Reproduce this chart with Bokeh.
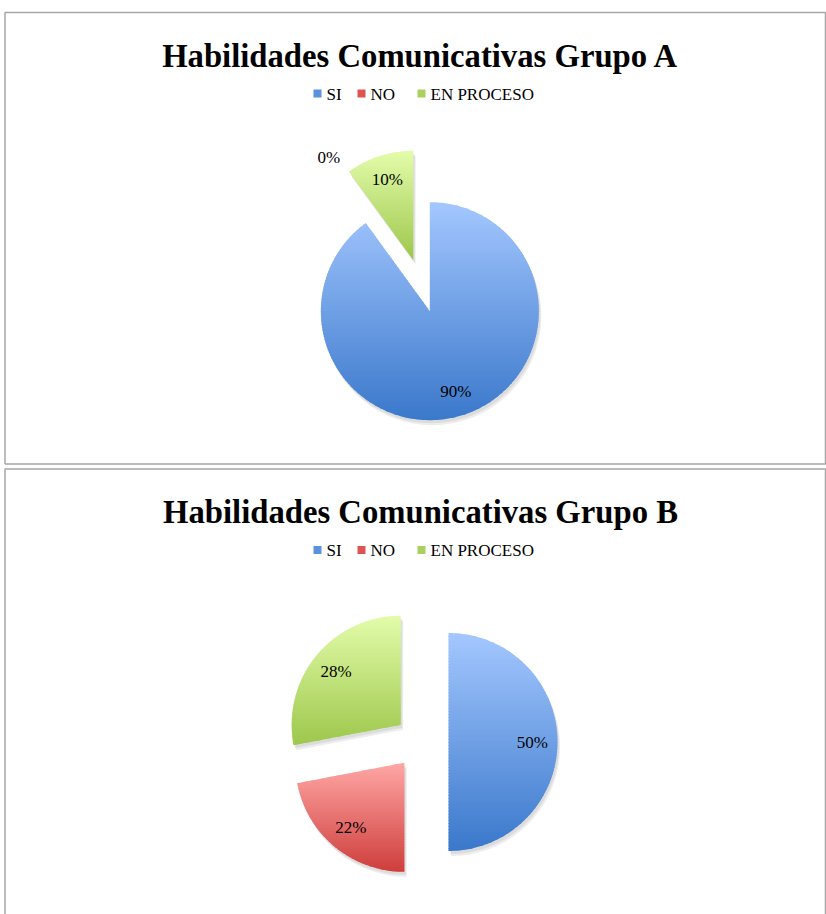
import numpy as np
from bokeh.plotting import figure
from bokeh.models import Range1d
from bokeh.layouts import column
from bokeh.embed import file_html
from bokeh.resources import INLINE
from bokeh.core.properties import value

# ---------------- data ----------------
categories = ["SI", "NO", "EN PROCESO"]
grupo_a = [90, 0, 10]
grupo_b = [50, 22, 28]
titles = ["Habilidades Comunicativas Grupo A", "Habilidades Comunicativas Grupo B"]

# ---------------- style ----------------
top_colors = ["#A4C7FF", "#FFA7A5", "#E3FCAA"]
bottom_colors = ["#3A78CB", "#CE3E3C", "#9DC74C"]
legend_colors = ["#5B92DE", "#DE5452", "#AAD160"]
FONT = "Liberation Serif"
W = 826
R = 109          # pie radius (px)
EXPLODE = 27     # slice explosion (px)
CX = 421         # pie centre x (px)


def hex2rgb(h):
    return np.array([int(h[i:i + 2], 16) for i in (1, 3, 5)], float)


def mix(c1, c2, t):
    c = hex2rgb(c1) * (1 - t) + hex2rgb(c2) * t
    return "#%02x%02x%02x" % tuple(int(round(v)) for v in c)


def clip_band(pts, y0, y1):
    def clip(poly, inside, yc):
        out = []
        n = len(poly)
        for i in range(n):
            cur, prev = poly[i], poly[i - 1]
            if inside(cur):
                if not inside(prev):
                    t = (yc - prev[1]) / (cur[1] - prev[1])
                    out.append((prev[0] + t * (cur[0] - prev[0]), yc))
                out.append(cur)
            elif inside(prev):
                t = (yc - prev[1]) / (cur[1] - prev[1])
                out.append((prev[0] + t * (cur[0] - prev[0]), yc))
        return out
    poly = clip(pts, lambda p: p[1] >= y0, y0)
    if len(poly) < 3:
        return []
    poly = clip(poly, lambda p: p[1] <= y1, y1)
    return poly if len(poly) >= 3 else []


def slice_poly(cx, cy, a0, a1, r):
    n = max(int(abs(a1 - a0) / 1.5) + 2, 3)
    th = np.radians(np.linspace(a0, a1, n))
    xs = cx + r * np.sin(th)
    ys = cy - r * np.cos(th)
    return [(cx, cy)] + list(zip(xs, ys))


def make_chart(title, values, height, box_top, box_bottom, draw_bottom):
    p = figure(width=W, height=height, x_range=Range1d(0, W),
               y_range=Range1d(height, 0), output_backend="svg",
               toolbar_location=None, tools="", min_border=0,
               x_axis_location=None, y_axis_location=None)
    p.grid.visible = False
    p.outline_line_color = None
    p.background_fill_color = "white"
    p.border_fill_color = "white"

    # chart box
    bx = [4.5, 4.5, 825, 825]
    by = [box_bottom, box_top, box_top, box_bottom]
    if draw_bottom:
        bx.append(4.5)
        by.append(box_bottom)
    p.line(bx, by, line_color="#A6A6A6", line_width=1.5)

    cy = box_top + 273
    total = float(sum(values))
    start = 0.0
    shadow_xs, shadow_ys = [], []
    band_xs, band_ys, band_cols = [], [], []
    lab_x, lab_y, lab_t = [], [], []
    for i, v in enumerate(values):
        span = 360.0 * v / total
        mid = start + span / 2
        ox = EXPLODE * np.sin(np.radians(mid))
        oy = -EXPLODE * np.cos(np.radians(mid))
        scx, scy = CX + ox, cy + oy
        if v > 0:
            pts = slice_poly(scx, scy, start, start + span, R)
            for dx, dy in [(1.5, 3.0), (2.5, 5.0)]:
                shadow_xs.append([q[0] + dx for q in pts])
                shadow_ys.append([q[1] + dy for q in pts])
            ys = [q[1] for q in pts]
            y_min, y_max = min(ys), max(ys)
            nb = 70
            edges = np.linspace(y_min, y_max, nb + 1)
            for b in range(nb):
                y0 = edges[b]
                y1 = min(edges[b + 1] + 1.0, y_max)
                poly = clip_band(pts, y0, y1)
                if poly:
                    band_xs.append([q[0] for q in poly])
                    band_ys.append([q[1] for q in poly])
                    band_cols.append(mix(top_colors[i], bottom_colors[i], (b + 0.5) / nb))
            lr = 0.77 * R
        else:
            lr = 1.2 * R
        lab_x.append(scx + lr * np.sin(np.radians(mid)))
        lab_y.append(scy - lr * np.cos(np.radians(mid)))
        lab_t.append("%d%%" % v)
        start += span

    p.patches(shadow_xs, shadow_ys, fill_color="#000000", fill_alpha=0.07, line_color=None)
    p.patches(xs=band_xs, ys=band_ys, fill_color=band_cols, line_color=None)

    p.text(x=lab_x, y=lab_y, text=lab_t, text_font=value(FONT), text_font_size="17px",
           text_align="center", text_baseline="middle", text_color="#000000")

    # title
    p.text(x=[CX - 1], y=[box_top + 43], text=[title], text_font=value(FONT),
           text_font_size="32.7px", text_font_style="bold", text_align="center",
           text_baseline="alphabetic", text_color="#000000")

    # legend
    ly = box_top + 81
    sq_x = [317, 361, 421]
    p.rect(x=sq_x, y=[ly] * 3, width=8, height=8, fill_color=legend_colors, line_color=None)
    p.text(x=[s + 9 for s in sq_x], y=[ly + 0.5] * 3, text=categories, text_font=value(FONT),
           text_font_size="17px", text_align="left", text_baseline="middle",
           text_color="#000000")
    return p


p1 = make_chart(titles[0], grupo_a, 466, 12, 463.5, True)
p2 = make_chart(titles[1], grupo_b, 448, 2.5, 460, False)
layout = column(p1, p2, spacing=0)

open("out.html", "w").write(file_html(layout, INLINE))
